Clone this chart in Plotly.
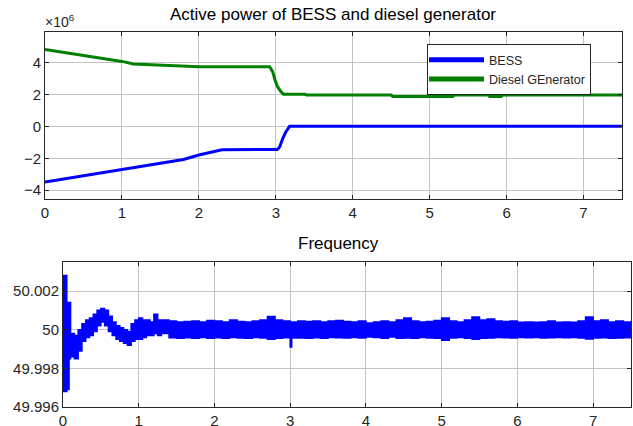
import plotly.graph_objects as go

# ---------------- data: top plot (units of 1e6 W) ----------------
bess_t = [0.0, 1.0, 1.8, 2.0, 2.3, 3.02, 3.05, 3.09, 3.13, 3.18, 7.5]
bess_v = [-3.48, -2.72, -2.08, -1.8, -1.47, -1.45, -1.3, -0.77, -0.35, 0.0, 0.0]

diesel_t = [0.0, 0.5, 1.0, 1.15, 1.6, 2.0, 2.92, 2.96, 2.99, 3.02, 3.06, 3.1,
            3.38, 3.4, 4.5, 4.52, 5.3, 5.32, 5.76, 5.78, 5.93, 5.95, 7.5]
diesel_v = [4.81, 4.44, 4.06, 3.9, 3.8, 3.73, 3.72, 3.4, 2.9, 2.5, 2.2, 2.0,
            2.0, 1.95, 1.95, 1.87, 1.87, 1.95, 1.95, 1.87, 1.87, 1.95, 1.95]

# ---------------- data: frequency envelope (Hz) ----------------
freq_t = [0.00, 0.03, 0.05, 0.08, 0.10, 0.15, 0.20, 0.25, 0.30, 0.35, 0.40,
          0.45, 0.50, 0.55, 0.60, 0.65, 0.70, 0.75, 0.80, 0.85, 0.90, 0.95,
          1.00, 1.05, 1.10, 1.15, 1.20, 1.25, 1.30,
          1.4, 1.5, 1.6, 1.7, 1.8, 1.9, 2.0, 2.1, 2.2, 2.3, 2.4, 2.5, 2.6,
          2.7, 2.8, 2.9, 3.0, 3.02, 3.1, 3.2, 3.3, 3.4, 3.5, 3.6, 3.7, 3.8,
          3.9, 4.0, 4.1, 4.2, 4.3, 4.4, 4.5, 4.6, 4.7, 4.8, 4.9, 5.0, 5.1,
          5.2, 5.3, 5.4, 5.5, 5.6, 5.7, 5.8, 5.9, 6.0, 6.1, 6.2, 6.3, 6.4,
          6.5, 6.6, 6.7, 6.8, 6.9, 7.0, 7.1, 7.2, 7.3, 7.4, 7.5]
freq_upper = [50.0028, 50.0028, 50.0014, 50.0014, 49.9998, 49.9997, 50.0000,
              50.0003, 50.0005, 50.0006, 50.0008, 50.0010, 50.0011, 50.0010,
              50.0007, 50.0004, 50.0002, 50.0001, 50.0000, 49.9999, 50.0003,
              50.0005, 50.0006, 50.0005, 50.0005, 50.0004, 50.0008, 50.0005,
              50.0005,
              50.00045, 50.00040, 50.00042, 50.00045, 50.00040, 50.00048,
              50.00045, 50.00040, 50.00050, 50.00042, 50.00040, 50.00045,
              50.00050, 50.00068, 50.00050, 50.00045, 50.00040, 50.00040,
              50.00045, 50.00042, 50.00045, 50.00040, 50.00045, 50.00048,
              50.00042, 50.00040, 50.00045, 50.00035, 50.00040, 50.00045,
              50.00040, 50.00050, 50.00060, 50.00045, 50.00040, 50.00042,
              50.00048, 50.00060, 50.00045, 50.00040, 50.00050, 50.00065,
              50.00050, 50.00055, 50.00045, 50.00042, 50.00045, 50.00038,
              50.00040, 50.00038, 50.00040, 50.00045, 50.00038, 50.00040,
              50.00038, 50.00045, 50.00065, 50.00045, 50.00050, 50.00040,
              50.00045, 50.00040, 50.00045]
freq_lower = [49.9968, 49.9968, 49.9969, 49.9985, 49.9986, 49.9985, 49.9989,
              49.9994, 49.9996, 49.9997, 49.9999, 50.0002, 50.0004, 50.0002,
              49.9999, 49.9997, 49.9995, 49.9994, 49.9993, 49.9992, 49.9994,
              49.9995, 49.9995, 49.9996, 49.9997, 49.9997, 49.9998, 49.9997,
              49.9998,
              49.99958, 49.99955, 49.99958, 49.99955, 49.99960, 49.99955,
              49.99958, 49.99955, 49.99960, 49.99957, 49.99955, 49.99960,
              49.99957, 49.99950, 49.99955, 49.99958, 49.99910, 49.99957,
              49.99957, 49.99955, 49.99958, 49.99955, 49.99960, 49.99958,
              49.99957, 49.99960, 49.99957, 49.99962, 49.99960, 49.99955,
              49.99962, 49.99955, 49.99957, 49.99955, 49.99960, 49.99957,
              49.99955, 49.99945, 49.99957, 49.99960, 49.99955, 49.99950,
              49.99955, 49.99957, 49.99960, 49.99958, 49.99957, 49.99960,
              49.99958, 49.99960, 49.99957, 49.99958, 49.99960, 49.99958,
              49.99960, 49.99957, 49.99952, 49.99957, 49.99958, 49.99955,
              49.99957, 49.99958, 49.99957]

top_yticks = [-4, -2, 0, 2, 4]
bot_yticks = [49.996, 49.998, 50.0, 50.002]
bot_yticktext = ["49.996", "49.998", "50", "50.002"]
xticks = [0, 1, 2, 3, 4, 5, 6, 7]

W, H = 633, 426
FONT = "Liberation Sans, Arial, Helvetica, sans-serif"
AX = "#262626"
GRID = "#c4c4c4"
BLUE = "#0000ff"
GREEN = "#008000"

fig = go.Figure()
fig.add_trace(go.Scatter(x=bess_t, y=bess_v, mode="lines", name="BESS",
                         line=dict(color=BLUE, width=3), xaxis="x", yaxis="y"))
fig.add_trace(go.Scatter(x=diesel_t, y=diesel_v, mode="lines", name="Diesel GEnerator",
                         line=dict(color=GREEN, width=3), xaxis="x", yaxis="y"))
fig.add_trace(go.Scatter(x=freq_t, y=freq_upper, mode="lines", showlegend=False,
                         line=dict(color=BLUE, width=1.5, shape="hv"),
                         xaxis="x2", yaxis="y2"))
fig.add_trace(go.Scatter(x=freq_t, y=freq_lower, mode="lines", showlegend=False,
                         line=dict(color=BLUE, width=1.5, shape="hv"),
                         fill="tonexty", fillcolor=BLUE,
                         xaxis="x2", yaxis="y2"))

def px_x(p):
    return p / W

def px_y(p):
    return 1 - p / H

axis_common = dict(showline=True, linecolor=AX, linewidth=1, mirror="ticks",
                   ticks="inside", ticklen=4, tickcolor=AX, automargin=False,
                   showgrid=True, gridcolor=GRID, gridwidth=1, zeroline=False,
                   tickfont=dict(family=FONT, size=15, color=AX))

fig.update_layout(
    width=W, height=H, autosize=False,
    margin=dict(l=0, r=0, t=0, b=0),
    paper_bgcolor="white", plot_bgcolor="white",
    xaxis=dict(domain=[px_x(45), px_x(622)], range=[0, 7.5], tickvals=xticks,
               anchor="y", **axis_common),
    yaxis=dict(domain=[px_y(199), px_y(32)], range=[-4.55, 5.9], tickvals=top_yticks,
               anchor="x", **axis_common),
    xaxis2=dict(domain=[px_x(63), px_x(631)], range=[0, 7.5], tickvals=xticks,
                anchor="y2", **axis_common),
    yaxis2=dict(domain=[px_y(407), px_y(262)], range=[49.996, 50.0035],
                tickvals=bot_yticks, ticktext=bot_yticktext,
                anchor="x2", **axis_common),
    legend=dict(x=px_x(427), y=px_y(44), xanchor="left", yanchor="top",
                bgcolor="white", bordercolor=AX, borderwidth=1,
                font=dict(family=FONT, size=12.5, color=AX),
                traceorder="normal", tracegroupgap=0, itemwidth=55,
                itemsizing="constant", indentation=-4),
    showlegend=True,
    annotations=[
        dict(text="Active power of BESS and diesel generator", x=px_x(333), y=px_y(15),
             xref="paper", yref="paper", showarrow=False, xanchor="center", yanchor="middle",
             font=dict(family=FONT, size=17, color="#000000")),
        dict(text="Frequency", x=px_x(338), y=px_y(243),
             xref="paper", yref="paper", showarrow=False, xanchor="center", yanchor="middle",
             font=dict(family=FONT, size=17, color="#000000")),
        dict(text="×10<sup>6</sup>", x=px_x(43), y=px_y(21),
             xref="paper", yref="paper", showarrow=False, xanchor="left", yanchor="middle",
             font=dict(family=FONT, size=14, color=AX)),
    ],
)

fig.write_html("out.html")
